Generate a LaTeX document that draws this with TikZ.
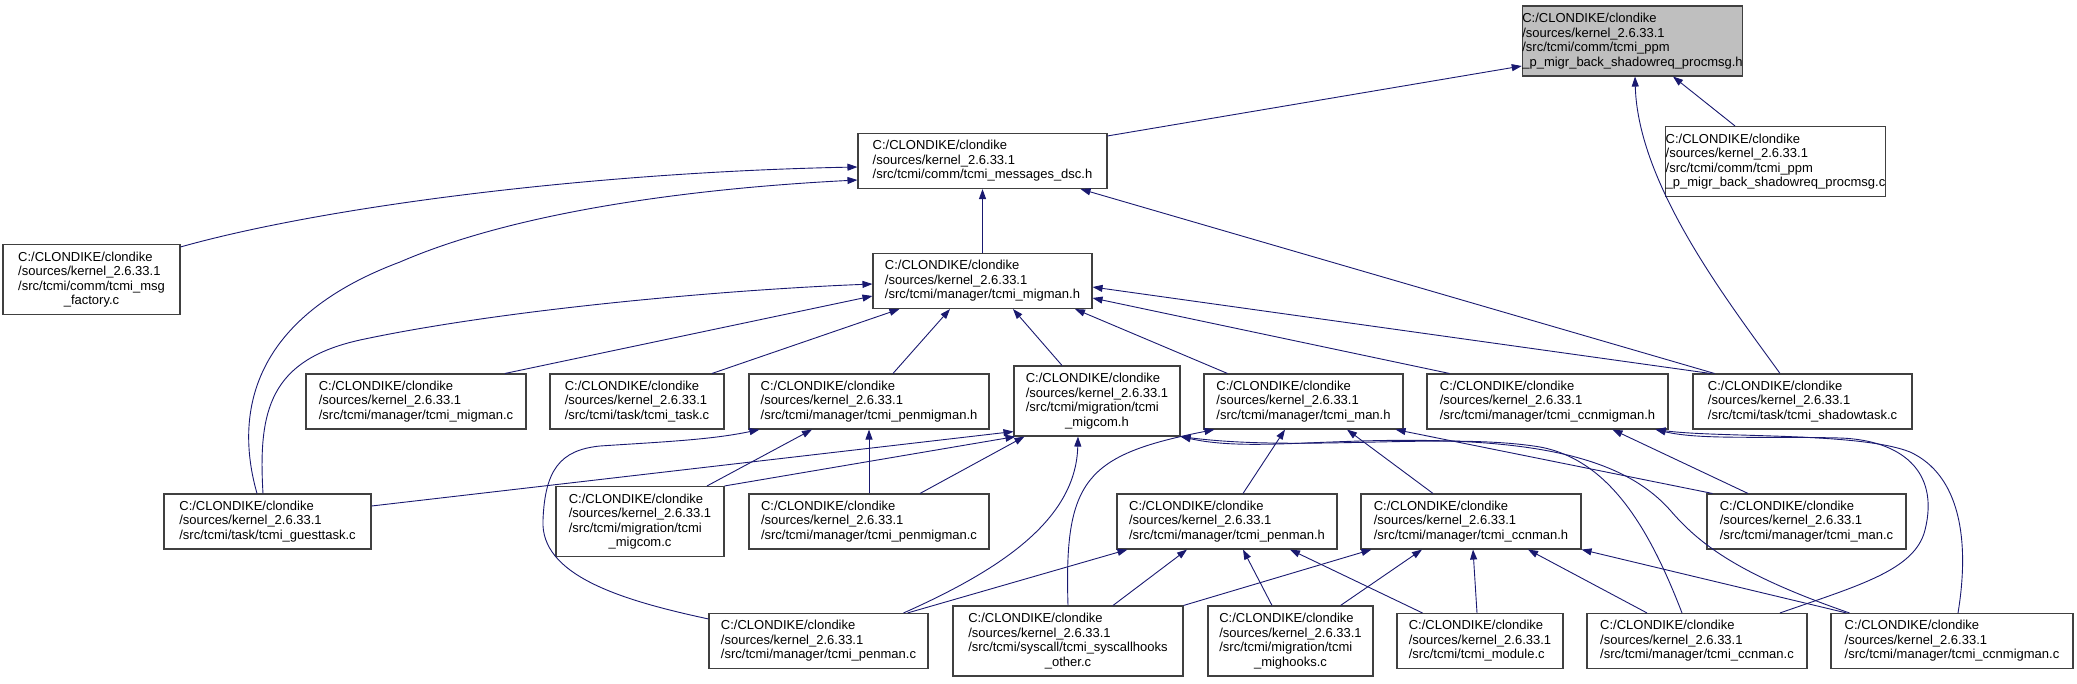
\documentclass[tikz,border=0pt]{standalone}
\usepackage{fontspec}
\setmainfont{Liberation Sans}
\usepackage{xcolor}
\usetikzlibrary{arrows.meta,calc}
\definecolor{edgeblue}{HTML}{191970}
\definecolor{boxline}{HTML}{404040}
\definecolor{tgtgray}{HTML}{BFBFBF}
\newcommand{\kroot}{C:/CLONDIKE/clondike\\/sources/kernel\_2.6.33.1\\}
\newcommand{\lastc}[1]{\null\hfil #1}

\begin{document}
\begin{tikzpicture}[
  x=1pt, y=-1pt,
  file/.style={draw=boxline, line width=1.1pt, fill=white, align=left,
               font=\fontsize{13}{14.5}\selectfont, inner sep=0pt, minimum height=55pt},
  file4/.style={file, minimum height=70pt},
  dep/.style={-{Triangle[length=10pt,width=7pt]}, draw=edgeblue, line width=0.9pt}
]
\useasboundingbox (0,0) rectangle (2077,683);

\node[file4, fill=tgtgray, minimum width=217pt] (tgt) at (1632.5,41) {\kroot/src/tcmi/comm/tcmi\_ppm\\\_p\_migr\_back\_shadowreq\_procmsg.h};
\node[file4, minimum width=217pt] (ppmc) at (1775.5,161.5) {\kroot/src/tcmi/comm/tcmi\_ppm\\\_p\_migr\_back\_shadowreq\_procmsg.c};
\node[file, minimum width=249pt] (dsc) at (982.5,161) {\kroot/src/tcmi/comm/tcmi\_messages\_dsc.h};
\node[file4, minimum width=177pt] (fact) at (91.5,279.5) {\kroot/src/tcmi/comm/tcmi\_msg\\\lastc{\_factory.c}};
\node[file, minimum width=219pt] (migmanh) at (982.5,281) {\kroot/src/tcmi/manager/tcmi\_migman.h};

\node[file, minimum width=220pt] (migmanc) at (416,401.5) {\kroot/src/tcmi/manager/tcmi\_migman.c};
\node[file, minimum width=174pt] (taskc) at (637,401.5) {\kroot/src/tcmi/task/tcmi\_task.c};
\node[file, minimum width=240pt] (penmigmanh) at (869,401.5) {\kroot/src/tcmi/manager/tcmi\_penmigman.h};
\node[file4, minimum width=166pt] (migcomh) at (1097,401) {\kroot/src/tcmi/migration/tcmi\\\lastc{\_migcom.h}};
\node[file, minimum width=199pt] (manh) at (1303.5,401.5) {\kroot/src/tcmi/manager/tcmi\_man.h};
\node[file, minimum width=241pt] (ccnmigmanh) at (1547.5,401.5) {\kroot/src/tcmi/manager/tcmi\_ccnmigman.h};
\node[file, minimum width=219pt] (shadowc) at (1802.5,401.5) {\kroot/src/tcmi/task/tcmi\_shadowtask.c};

\node[file, minimum width=207pt] (guestc) at (267.5,521.5) {\kroot/src/tcmi/task/tcmi\_guesttask.c};
\node[file4, minimum width=168pt] (migcomc) at (640,521.5) {\kroot/src/tcmi/migration/tcmi\\\lastc{\_migcom.c}};
\node[file, minimum width=240pt] (penmigmanc) at (869,521.5) {\kroot/src/tcmi/manager/tcmi\_penmigman.c};
\node[file, minimum width=220pt] (penmanh) at (1227,521.5) {\kroot/src/tcmi/manager/tcmi\_penman.h};
\node[file, minimum width=220pt] (ccnmanh) at (1471,521.5) {\kroot/src/tcmi/manager/tcmi\_ccnman.h};
\node[file, minimum width=199pt] (manc) at (1806.5,521.5) {\kroot/src/tcmi/manager/tcmi\_man.c};

\node[file, minimum width=219pt] (penmanc) at (818.5,641) {\kroot/src/tcmi/manager/tcmi\_penman.c};
\node[file4, minimum width=230pt] (syscallc) at (1068,641) {\kroot/src/tcmi/syscall/tcmi\_syscallhooks\\\lastc{\_other.c}};
\node[file4, minimum width=165pt] (mighooksc) at (1290.5,641) {\kroot/src/tcmi/migration/tcmi\\\lastc{\_mighooks.c}};
\node[file, minimum width=166pt] (modulec) at (1480,641) {\kroot/src/tcmi/tcmi\_module.c};
\node[file, minimum width=220pt] (ccnmanc) at (1697,641) {\kroot/src/tcmi/manager/tcmi\_ccnman.c};
\node[file, minimum width=242pt] (ccnmigmanc) at (1952,641) {\kroot/src/tcmi/manager/tcmi\_ccnmigman.c};

% into the header at the top
\draw[dep] ($(dsc.north east)+(0,3)$) -- ($(tgt.west)+(0,25)$);
\draw[dep] ($(ppmc.north)+(-40.5,0)$) -- ($(tgt.south)+(40.5,0)$);
\draw[dep] ($(shadowc.north)+(-22.5,0)$) .. controls (1730,304) and (1638,186) .. ($(tgt.south)+(2.5,0)$);

% messages_dsc
\draw[dep] ($(fact.north east)+(0,3)$) .. controls (330,205) and (600,172) .. ($(dsc.west)+(0,6)$);
\draw[dep] ($(guestc.north)+(-10.5,0)$) .. controls (236,420) and (245,320) .. (400,262)
  .. controls (520,210) and (700,188) .. ($(dsc.west)+(0,19)$);
\draw[dep] (migmanh.north) -- (dsc.south);
\draw[dep] ($(shadowc.north west)+(22,0)$) -- ($(dsc.south east)+(-27,0)$);

% migman.h
\draw[dep] ($(guestc.north)+(-4.5,0)$) .. controls (258,410) and (270,360) .. (360,340)
  .. controls (500,310) and (720,290) .. ($(migmanh.west)+(0,3)$);
\draw[dep] ($(migmanc.north)+(89,0)$) -- ($(migmanh.west)+(0,15)$);
\draw[dep] ($(taskc.north)+(75,0)$) -- ($(migmanh.south west)+(27,0)$);
\draw[dep] ($(penmigmanh.north)+(24,0)$) -- ($(migmanh.south)+(-32.5,0)$);
\draw[dep] ($(migcomh.north)+(-35,0)$) -- ($(migmanh.south)+(30.5,0)$);
\draw[dep] ($(manh.north west)+(24,0)$) -- ($(migmanh.south)+(92.5,0)$);
\draw[dep] ($(ccnmigmanh.north west)+(23,0)$) -- ($(migmanh.east)+(0,17)$);
\draw[dep] ($(shadowc.north west)+(18,0)$) -- ($(migmanh.east)+(0,6)$);

% penmigman.h
\draw[dep] ($(penmanc.north west)+(0,6)$) .. controls (620,600) and (540,575) .. (543,520)
  .. controls (545,470) and (560,450) .. (600,446)
  .. controls (660,442) and (710,440) .. ($(penmigmanh.south west)+(11,0)$);
\draw[dep] ($(migcomc.north)+(67,0)$) -- ($(penmigmanh.south)+(-57,0)$);
\draw[dep] (penmigmanc.north) -- (penmigmanh.south);

% migcom.h
\draw[dep] ($(guestc.east)+(0,-15.5)$) -- ($(migcomh.south west)+(0,-5)$);
\draw[dep] (migcomc.north east) -- ($(migcomh.south west)+(2,0)$);
\draw[dep] ($(penmigmanc.north)+(51,0)$) -- ($(migcomh.south west)+(11,0)$);
\draw[dep] ($(penmanc.north east)+(-25,0)$) .. controls (1000,570) and (1076,520) .. ($(migcomh.south)+(-19,0)$);
\draw[dep] ($(ccnmanc.north)+(-15,0)$) .. controls (1650,530) and (1610,460) .. (1540,447)
  .. controls (1450,432) and (1300,452) .. (migcomh.south east);
\draw[dep] ($(ccnmigmanc.north west)+(19,0)$) .. controls (1740,575) and (1700,545) .. (1670,510)
  .. controls (1630,465) and (1560,445) .. (1450,441)
  .. controls (1330,437) and (1250,452) .. (migcomh.south east);

% man.h
\draw[dep] (syscallc.north) .. controls (1064,480) and (1085,455) .. ($(manh.south west)+(11,0)$);
\draw[dep] ($(penmanh.north)+(16,0)$) -- ($(manh.south)+(-18.5,0)$);
\draw[dep] ($(ccnmanh.north)+(-38,0)$) -- ($(manh.south)+(43.5,0)$);
\draw[dep] ($(manc.north west)+(6,0)$) -- ($(manh.south east)+(-8,0)$);

% ccnmigman.h
\draw[dep] ($(manc.north)+(-58.5,0)$) -- ($(ccnmigmanh.south)+(65,0)$);
\draw[dep] ($(ccnmanc.north)+(83,0)$) .. controls (1860,585) and (1915,570) .. (1925,530)
  .. controls (1940,470) and (1900,440) .. (1840,438)
  .. controls (1760,436) and (1700,440) .. ($(ccnmigmanh.south east)+(-13,0)$);
\draw[dep] ($(ccnmigmanc.north)+(6,0)$) .. controls (1970,540) and (1960,475) .. (1910,452)
  .. controls (1860,432) and (1720,438) .. ($(ccnmigmanh.south east)+(-13,0)$);

% penman.h
\draw[dep] ($(penmanc.north east)+(-21,0)$) -- ($(penmanh.south west)+(11,0)$);
\draw[dep] ($(syscallc.north)+(45,0)$) -- ($(penmanh.south)+(-40,0)$);
\draw[dep] ($(mighooksc.north)+(-18.5,0)$) -- ($(penmanh.south)+(16,0)$);
\draw[dep] ($(modulec.north west)+(26,0)$) -- ($(penmanh.south)+(63,0)$);

% ccnman.h
\draw[dep] (syscallc.north east) -- ($(ccnmanh.south west)+(11,0)$);
\draw[dep] ($(mighooksc.north east)+(-33,0)$) -- ($(ccnmanh.south)+(-49,0)$);
\draw[dep] ($(modulec.north)+(-3,0)$) -- ($(ccnmanh.south)+(2,0)$);
\draw[dep] ($(ccnmanc.north)+(-50,0)$) -- ($(ccnmanh.south)+(57,0)$);
\draw[dep] ($(ccnmigmanc.north west)+(16,0)$) -- (ccnmanh.south east);
\end{tikzpicture}
\end{document}
